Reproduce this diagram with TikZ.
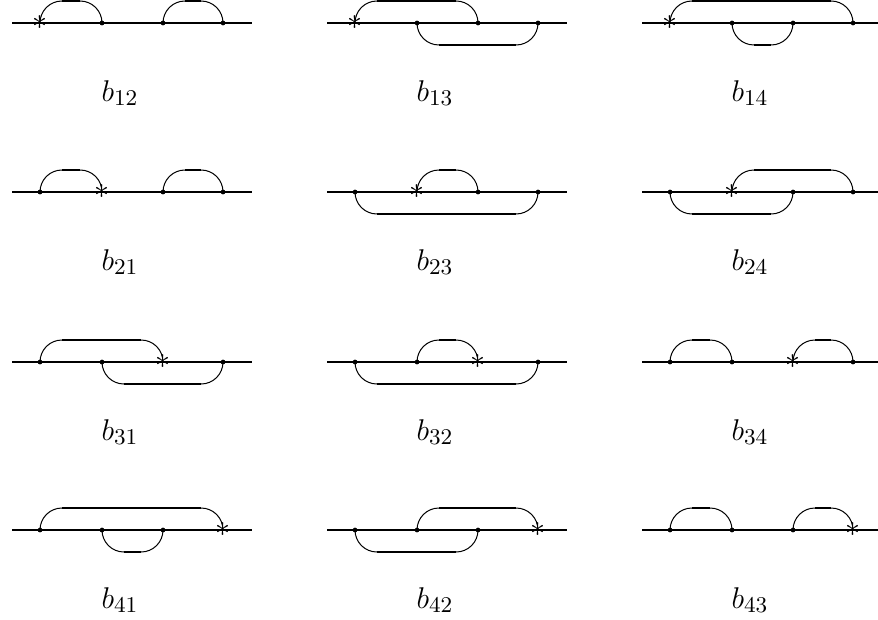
\documentclass[tikz,border=0pt]{standalone}
\usepackage{tikz}
\usetikzlibrary{calc}
\tikzset{
  axis/.style={line width=.8pt},
  site/.style={circle,fill=black,inner sep=0pt,minimum size=1.9pt},
  marked/.style={inner sep=0pt,font=\fontsize{12}{14}\selectfont},
  curl/.style={line width=.4pt},
  flat/.style={line width=1pt},
  caption/.style={font=\fontsize{12.5}{15}\selectfont},
}
% one strip: name, x offset, y of the line, marked site, caption
\newcommand{\panel}[5]{%
  \coordinate (#1l) at (#2+12,#3);
  \coordinate (#1r) at (#2+252,#3);
  \draw[axis] (#1l) -- (#1r);
  \foreach \k/\px in {1/40,2/102,3/163,4/223}{%
    \ifnum\k=#4\relax
      \node[marked] (#1\k) at (#2+\px,#3) {$\ast$};
    \else
      \node[site] (#1\k) at (#2+\px,#3) {};
    \fi}
  \node[caption] (#1t) at (#2+120,#3-70) {$#5$};}
% pairing above / below the line
\newcommand{\linkup}[2]{%
  \draw[curl] (#1.center) to[out=90,in=180] ($(#1.center)+(22,22)$);
  \draw[flat] ($(#1.center)+(22,22)$) -- ($(#2.center)+(-22,22)$);
  \draw[curl] ($(#2.center)+(-22,22)$) to[out=0,in=90] (#2.center);}
\newcommand{\linkdown}[2]{%
  \draw[curl] (#1.center) to[out=-90,in=180] ($(#1.center)+(22,-22)$);
  \draw[flat] ($(#1.center)+(22,-22)$) -- ($(#2.center)+(-22,-22)$);
  \draw[curl] ($(#2.center)+(-22,-22)$) to[out=0,in=-90] (#2.center);}
\begin{document}
\begin{tikzpicture}[x=0.4pt,y=0.4pt]
  \useasboundingbox (0,0) rectangle (878,-619);
  \panel{a}{0}{-23}{1}{b_{12}}    \linkup{a1}{a2} \linkup{a3}{a4}
  \panel{b}{315}{-23}{1}{b_{13}}  \linkup{b1}{b3} \linkdown{b2}{b4}
  \panel{c}{630}{-23}{1}{b_{14}}  \linkup{c1}{c4} \linkdown{c2}{c3}
  \panel{d}{0}{-192}{2}{b_{21}}   \linkup{d1}{d2} \linkup{d3}{d4}
  \panel{e}{315}{-192}{2}{b_{23}} \linkup{e2}{e3} \linkdown{e1}{e4}
  \panel{f}{630}{-192}{2}{b_{24}} \linkup{f2}{f4} \linkdown{f1}{f3}
  \panel{g}{0}{-362}{3}{b_{31}}   \linkup{g1}{g3} \linkdown{g2}{g4}
  \panel{h}{315}{-362}{3}{b_{32}} \linkup{h2}{h3} \linkdown{h1}{h4}
  \panel{i}{630}{-362}{3}{b_{34}} \linkup{i1}{i2} \linkup{i3}{i4}
  \panel{j}{0}{-530}{4}{b_{41}}   \linkup{j1}{j4} \linkdown{j2}{j3}
  \panel{k}{315}{-530}{4}{b_{42}} \linkup{k2}{k4} \linkdown{k1}{k3}
  \panel{m}{630}{-530}{4}{b_{43}} \linkup{m1}{m2} \linkup{m3}{m4}
\end{tikzpicture}
\end{document}
